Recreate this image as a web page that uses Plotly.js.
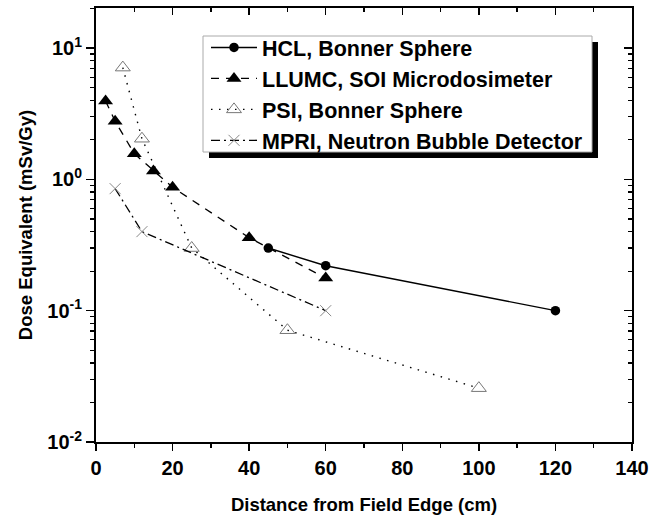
<!DOCTYPE html>
<html><head><meta charset="utf-8">
<script src="https://cdn.plot.ly/plotly-3.0.1.min.js"></script>
<style>html,body{margin:0;padding:0;background:#fff}#chart{width:650px;height:519px}</style>
</head><body><div id="chart"></div>
<script>
// ---- data ----
const seriesNames = ["HCL, Bonner Sphere","LLUMC, SOI Microdosimeter","PSI, Bonner Sphere","MPRI, Neutron Bubble Detector"];
const hclX = [45, 60, 120];
const hclY = [0.30, 0.22, 0.10];
const llumcX = [2.5, 5, 10, 15, 20, 40, 60];
const llumcY = [3.95, 2.77, 1.57, 1.16, 0.87, 0.36, 0.177];
const psiX = [7, 12, 25, 50, 100];
const psiY = [7.1, 2.04, 0.30, 0.071, 0.0257];
const mpriX = [5, 12, 60];
const mpriY = [0.85, 0.40, 0.10];
const yTickVals = [0.01, 0.1, 1, 10];
const yTickText = ["10<sup>-2</sup>","10<sup>-1</sup>","10<sup>0</sup>","10<sup>1</sup>"];
const xTitle = "Distance from Field Edge (cm)";
const yTitle = "Dose Equivalent (mSv/Gy)";

const FAM = "Liberation Sans, Arial, sans-serif";
const W = 650, H = 519, L = 96, R = 18, T = 8, B = 77;
const pw = W - L - R, ph = H - T - B;
const px = v => (v - L) / pw;
const py = v => (H - B - v) / ph;

const traces = [
  {x: hclX, y: hclY, name: seriesNames[0], mode: "lines+markers",
   line: {color: "#000", width: 1.4, dash: "solid"},
   marker: {symbol: "circle", size: 9.5, color: "#000"}},
  {x: llumcX, y: llumcY, name: seriesNames[1], mode: "lines+markers",
   line: {color: "#000", width: 1.3, dash: "8px,7px"},
   marker: {symbol: "triangle-up", size: 13, color: "#000"}},
  {x: psiX, y: psiY, name: seriesNames[2], mode: "lines+markers",
   line: {color: "#000", width: 1.4, dash: "1.5px,6.5px"},
   marker: {symbol: "triangle-up-open", size: 13, color: "#777", line: {width: 1, color: "#777"}}},
  {x: mpriX, y: mpriY, name: seriesNames[3], mode: "lines+markers",
   line: {color: "#000", width: 1.3, dash: "9px,4px,2px,4px"},
   marker: {symbol: "x-thin-open", size: 11, color: "#888", line: {width: 1, color: "#888"}}},
  {x: [], y: [], xaxis: "x2", yaxis: "y2", showlegend: false, hoverinfo: "skip"}
];

const tickFont = {family: FAM, size: 20, color: "#000", weight: 700};
const layout = {
  width: W, height: H,
  margin: {l: L, r: R, t: T, b: B, pad: 0},
  paper_bgcolor: "#fff", plot_bgcolor: "#fff",
  showlegend: true,
  font: {family: FAM, color: "#000"},
  xaxis: {
    range: [0, 140], dtick: 20, tick0: 0, ticks: "outside", ticklen: 7, tickwidth: 1.5,
    tickcolor: "#000", showline: true, linewidth: 2, linecolor: "#000",
    showgrid: false, zeroline: false, tickfont: tickFont,
    minor: {dtick: 10, ticks: "outside", ticklen: 4, tickwidth: 1.5, tickcolor: "#000", showgrid: false},
    title: {text: xTitle, font: {family: FAM, size: 18.5, weight: 700, color: "#000"}, standoff: 20}
  },
  yaxis: {
    type: "log", range: [-2, 1.305], tickmode: "array", tickvals: yTickVals, ticktext: yTickText,
    ticks: "outside", ticklen: 8, tickwidth: 1.5, tickcolor: "#000",
    showline: true, linewidth: 2, linecolor: "#000", showgrid: false, zeroline: false,
    tickfont: tickFont,
    minor: {dtick: "D1", ticks: "outside", ticklen: 4, tickwidth: 1.2, tickcolor: "#000", showgrid: false},
    title: {text: yTitle, font: {family: FAM, size: 18.5, weight: 700, color: "#000"}, standoff: 10}
  },
  xaxis2: {
    overlaying: "x", side: "top", anchor: "y2", range: [0, 140], dtick: 20, tick0: 0,
    ticks: "inside", ticklen: 7, tickwidth: 1.5, tickcolor: "#000",
    showline: true, linewidth: 2, linecolor: "#000", showgrid: false, zeroline: false,
    showticklabels: false,
    minor: {dtick: 10, ticks: "inside", ticklen: 4, tickwidth: 1.5, tickcolor: "#000", showgrid: false}
  },
  yaxis2: {
    overlaying: "y", side: "right", anchor: "x2", type: "log", range: [-2, 1.305],
    tickmode: "array", tickvals: yTickVals,
    ticks: "inside", ticklen: 8, tickwidth: 1.5, tickcolor: "#000",
    showline: true, linewidth: 2, linecolor: "#000", showgrid: false, zeroline: false,
    showticklabels: false,
    minor: {dtick: "D1", ticks: "inside", ticklen: 4, tickwidth: 1.2, tickcolor: "#000", showgrid: false}
  },
  legend: {
    x: px(206), y: py(27), xanchor: "left", yanchor: "top",
    bgcolor: "rgba(0,0,0,0)", borderwidth: 0,
    font: {family: FAM, size: 21.5, weight: 700, color: "#000"},
    tracegroupgap: 0, itemwidth: 46
  },
  shapes: [
    {type: "rect", xref: "paper", yref: "paper", layer: "below",
     x0: px(209), x1: px(598), y0: py(42), y1: py(158),
     fillcolor: "#000", line: {width: 0}},
    {type: "rect", xref: "paper", yref: "paper", layer: "below",
     x0: px(203), x1: px(592), y0: py(36), y1: py(152),
     fillcolor: "#fff", line: {width: 1, color: "#aaa"}}
  ]
};

Plotly.newPlot("chart", traces, layout, {staticPlot: true, displayModeBar: false});
</script>
</body></html>
